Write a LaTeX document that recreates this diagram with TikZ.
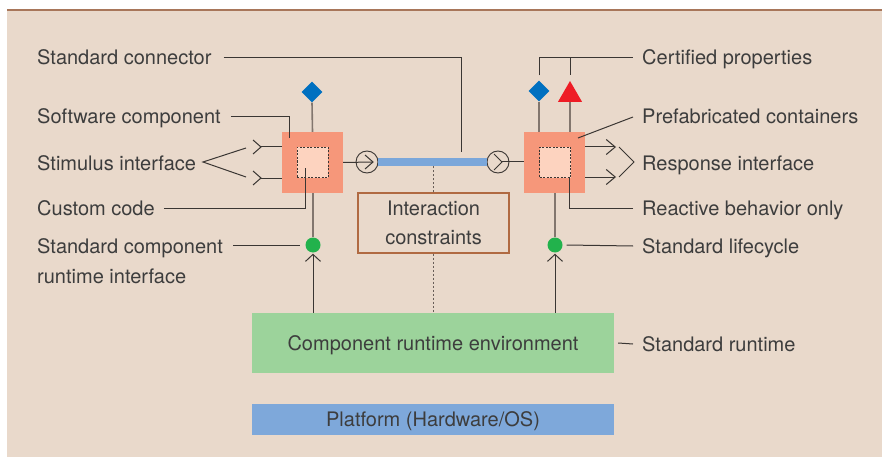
\documentclass[tikz,border=0pt]{standalone}
\usepackage{fontspec}
\setmainfont{TeX Gyre Heros}
\usetikzlibrary{arrows.meta,positioning,shapes.geometric,calc}
\definecolor{cbbeige}{HTML}{E9D9CB}
\definecolor{cbrule}{HTML}{A8765A}
\definecolor{cbsalmon}{HTML}{F6977A}
\definecolor{cbpeach}{HTML}{FDD3BF}
\definecolor{cbblue}{HTML}{0070C0}
\definecolor{cbred}{HTML}{EE1C25}
\definecolor{cbgreen}{HTML}{22B24C}
\definecolor{cbenv}{HTML}{9CD39B}
\definecolor{cbplat}{HTML}{7EA8DA}
\definecolor{cbbar}{HTML}{7BA7DA}
\definecolor{cbframe}{HTML}{B06A42}
\definecolor{cbdark}{HTML}{3A3633}
\definecolor{cbstem}{HTML}{82766E}
\definecolor{cbtext}{HTML}{3D3D3D}

\begin{document}
\begin{tikzpicture}[x=1pt,y=-1pt,
  font=\fontsize{20}{29.5}\selectfont, text=cbtext,
  lbl/.style={anchor=west,inner sep=0pt,text height=14pt,text depth=0pt},
  compbox/.style={fill=cbsalmon,minimum size=61pt,inner sep=0pt},
  codebox/.style={fill=cbpeach,draw=cbdark,dash pattern=on 2pt off 1.5pt,
    line width=0.9pt,minimum width=31pt,minimum height=30pt,inner sep=0pt},
  certmark/.style={diamond,fill=cbblue,minimum size=21pt,inner sep=0pt},
  propmark/.style={regular polygon,regular polygon sides=3,fill=cbred,
    minimum size=28pt,inner sep=0pt},
  lifedot/.style={circle,fill=cbgreen,minimum size=15pt,inner sep=0pt},
  port/.style={circle,draw=cbdark,line width=0.9pt,minimum size=22pt,inner sep=0pt},
  lead/.style={draw=cbdark,line width=1pt},
  stem/.style={draw=cbstem,line width=1.6pt},
  upwire/.style={lead,-{Straight Barb[length=7pt,width=15pt]}},
  outwire/.style={lead,-{Straight Barb[length=9pt,width=15pt]}},
  bar/.style={draw=cbbar,line width=7pt},
  dotline/.style={draw=cbstem!80!black,line width=1.4pt,dash pattern=on 2pt off 2pt},
  plainbox/.style={minimum width=362pt,inner sep=0pt,text height=14pt,text depth=0pt}
]

  % ---- Background ----------------------------------------------
  \useasboundingbox (0,0) rectangle (882,457);
  \fill[white] (0,0) rectangle (882,457);
  \fill[cbbeige] (7,10) rectangle (882,457);
  \draw[cbrule,line width=1.5pt] (7,10) -- (882,10);

  % ---- Runtime and platform ------------------------------------
  \node[plainbox,fill=cbenv,minimum height=60pt] (env) at (433,343) {Component runtime environment};
  \node[plainbox,fill=cbplat,minimum height=31pt] (plat) at (433,419.5) {Platform (Hardware/OS)};

  % ---- Components ----------------------------------------------
  \node[compbox] (lcomp) at (312.5,162.5) {};
  \node[codebox] (lcode) at (312.5,162.5) {};
  \node[compbox] (rcomp) at (554.5,162.5) {};
  \node[codebox] (rcode) at (555,162.5) {};

  % certified properties
  \node[certmark] (ldia) at (312,92) {};
  \node[certmark] (rdia) at (539,91) {};
  \node[propmark] (rtri) at (570,95) {};
  \draw[stem] (ldia.south) -- (lcomp.north);
  \draw[stem] (rdia.south) -- (rdia.south |- rcomp.north);
  \draw[stem] (rtri.south) -- (rtri.south |- rcomp.north);

  % lifecycle dots
  \node[lifedot] (ldot) at (313,245) {};
  \node[lifedot] (rdot) at (555,245) {};
  \draw[stem] (ldot.north |- lcomp.south) -- (ldot.north);
  \draw[stem] (rdot.north |- rcomp.south) -- (rdot.north);
  \draw[upwire] (env.north -| ldot) -- ([yshift=-1pt]ldot.south);
  \draw[upwire] (env.north -| rdot) -- ([yshift=-1pt]rdot.south);

  % ---- Connector -----------------------------------------------
  \node[port] (lport) at (367,162) {};
  \node[port] (rport) at (498,162) {};
  \node[draw=cbframe,line width=1.2pt,minimum width=151pt,minimum height=60pt,
    align=center,inner sep=0pt] (cons) at (433.5,223) {Interaction\\constraints};
  \draw[dotline] (cons.north) -- (cons.north |- lport.center);
  \draw[dotline] (cons.south) -- (cons.south |- env.north);
  \draw[bar] (lport.east) -- (rport.west);

  \coordinate (lapex) at (373,162);
  \coordinate (rapex) at (502,162);
  \draw[lead] (lcomp.east) -- (lapex);
  \draw[lead] ([shift={(-8,-7)}]lapex) -- (lapex) -- ([shift={(-8,7)}]lapex);
  \draw[lead] (rapex) -- (rcomp.west |- rapex);
  \draw[lead] ([shift={(-8,-8)}]rapex) -- (rapex) -- ([shift={(-8,8)}]rapex);

  % ---- Stimulus and response -----------------------------------
  \coordinate (sin1) at (261,147);
  \coordinate (sin2) at (261,178);
  \draw[lead] (sin1) -- (sin1 -| lcomp.west);
  \draw[lead] (sin2) -- (sin2 -| lcomp.west);
  \draw[lead] ([shift={(-8,-7)}]sin1) -- (sin1) -- ([shift={(-8,7)}]sin1);
  \draw[lead] ([shift={(-8,-7)}]sin2) -- (sin2) -- ([shift={(-8,7)}]sin2);

  \coordinate (rout1) at (616,147);
  \coordinate (rout2) at (616,177);
  \draw[outwire] (rout1 -| rcomp.east) -- (rout1);
  \draw[outwire] (rout2 -| rcomp.east) -- (rout2);

  % ---- Labels, left --------------------------------------------
  \node[lbl] (tconn) at (37,58) {Standard connector};
  \node[lbl] (tsoft) at (37,117) {Software component};
  \node[lbl] (tstim) at (37,163) {Stimulus interface};
  \node[lbl] (tcode) at (37,208) {Custom code};
  \node[anchor=north west,inner sep=0pt,align=left] (truni) at (37,238.5)
    {Standard component\\runtime interface};

  \coordinate (connpt) at (461,152);
  \coordinate (softpt) at (289,138);
  \coordinate (stimpt) at (203,162);
  \coordinate (codept) at (305,168);
  \draw[lead] ([xshift=12]tconn.east) -| (connpt);
  \draw[lead] ([xshift=10]tsoft.east) -| (softpt);
  \draw[lead] (246,148) -- (stimpt) -- (246,177);
  \draw[lead] ([xshift=9]tcode.east) -| (codept);
  \draw[lead] (233,245) -- ([xshift=-5]ldot.west);

  % ---- Labels, right -------------------------------------------
  \node[lbl] (tcert) at (642,58) {Certified properties};
  \node[lbl] (tpref) at (642,117) {Prefabricated containers};
  \node[lbl] (tresp) at (642,163) {Response interface};
  \node[lbl] (treac) at (642,208) {Reactive behavior only};
  \node[lbl] (tlife) at (642,246) {Standard lifecycle};
  \node[lbl] (trunt) at (642,344) {Standard runtime};

  \coordinate (prefpt) at (578,138);
  \coordinate (resppt) at (634,162);
  \coordinate (reacpt) at (569,177);
  \draw[lead] ([yshift=5]rdia.north) |- ([xshift=-9]tcert.west);
  \draw[lead] ([yshift=6]rtri.north) -- (rtri.north |- tcert.west);
  \draw[lead] ([xshift=-9]tpref.west) -- (prefpt);
  \draw[lead] (619,147) -- (resppt) -- (619,177);
  \draw[lead] ([xshift=-9]treac.west) -| (reacpt);
  \draw[lead] ([xshift=-9]tlife.west) -- ([xshift=4]rdot.east);
  \draw[lead] ([xshift=-9]trunt.west) -- ([xshift=4]env.east);

\end{tikzpicture}
\end{document}
